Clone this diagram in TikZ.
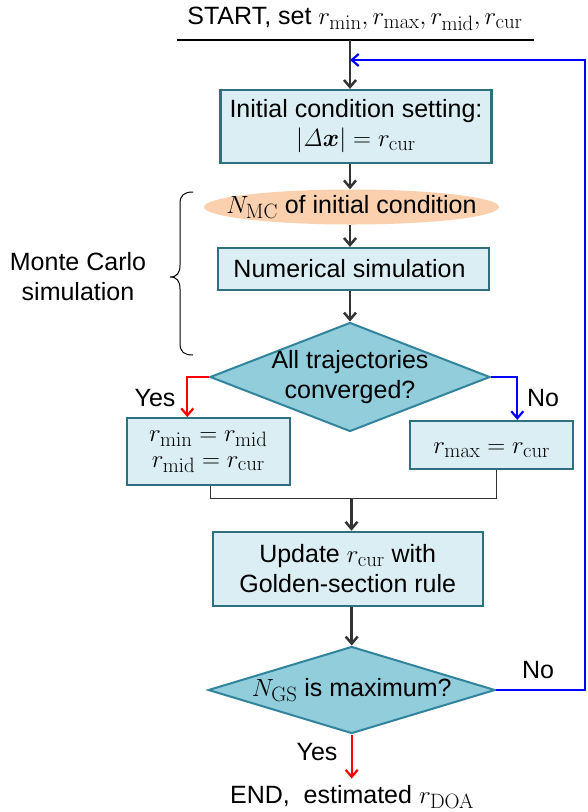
\documentclass[tikz,border=0pt]{standalone}
\usepackage{amsmath,amssymb}
\usepackage[no-math]{fontspec}
\setmainfont{Liberation Sans}
\usetikzlibrary{shapes.geometric,arrows.meta}
\definecolor{boxfill}{HTML}{DBEEF4}
\definecolor{boxline}{HTML}{2E6F80}
\definecolor{diafill}{HTML}{92CDDC}
\definecolor{dialine}{HTML}{31849B}
\definecolor{ellfill}{HTML}{FAD0AE}
\definecolor{arr}{HTML}{333333}
\newcommand{\mymath}[1]{{\fontsize{28.5pt}{30pt}\selectfont$#1$}}
\begin{document}
\begin{tikzpicture}[x=1pt,y=-1pt,
  every node/.style={font=\fontsize{25pt}{30pt}\selectfont},
  box/.style={draw=boxline, fill=boxfill, line width=2.2pt, inner sep=0pt, align=center},
  dia/.style={diamond, draw=dialine, fill=diafill, line width=2pt, inner sep=0pt},
  ell/.style={ellipse, fill=ellfill, inner sep=0pt},
  tip/.style={-{Straight Barb[length=7pt,width=12pt]}},
  flow/.style={draw=arr, line width=2.5pt, tip},
  yesl/.style={draw=red, line width=2.2pt, tip},
  nol/.style={draw=blue, line width=2.2pt, tip},
  joinl/.style={draw=arr, line width=1.4pt},
  txt/.style={align=center, inner sep=0pt}]
\useasboundingbox (0,0) rectangle (588,812);
% start
\node[txt] (start) at (355,19) {START, set \mymath{r_{\mathrm{min}}, r_{\mathrm{max}}, r_{\mathrm{mid}}, r_{\mathrm{cur}}}};
\coordinate (lineL) at (177,40);
\coordinate (lineR) at (534,40);
\coordinate (top) at (350,40);
\coordinate (fb) at (350,60);
\draw[line width=2.4pt] (lineL) -- (lineR);
% boxes
\node[box, minimum width=271pt, minimum height=73pt] (b1) at (356,126.5)
  {Initial condition setting:\\[-1pt] \mymath{|\mathit{\Delta}\boldsymbol{x}| = r_{\mathrm{cur}}}};
\node[ell, minimum width=295pt, minimum height=35pt] (e1) at (351.5,207) {};
\node[txt] (e1t) at (e1.center) {\mymath{N_{\mathrm{MC}}} of initial condition};
\node[box, minimum width=271pt, minimum height=42pt] (b2) at (353.5,269) {};
\node[txt] (b2t) at ([xshift=-4pt]b2.center) {Numerical simulation};
\node[dia, minimum width=280pt, minimum height=109pt] (d1) at (350,377) {};
\node[txt] (d1t) at (d1.center) {All trajectories\\converged?};
\node[box, minimum width=163pt, minimum height=67pt] (b3) at (208.3,451.7)
  {\mymath{r_{\mathrm{min}} = r_{\mathrm{mid}}}\\[-4pt] \mymath{r_{\mathrm{mid}} = r_{\mathrm{cur}}}};
\node[box, minimum width=163pt, minimum height=48pt] (b4) at (491.7,445) {};
\node[txt] (b4t) at ([yshift=-5pt]b4.center) {\mymath{r_{\mathrm{max}} = r_{\mathrm{cur}}}};
\node[box, minimum width=270pt, minimum height=74pt] (b5) at (347.7,568.8)
  {Update \mymath{r_{\mathrm{cur}}} with\\ Golden-section rule};
\node[dia, minimum width=287pt, minimum height=87pt] (d2) at (351.7,690) {};
\node[txt] (d2t) at (d2.center) {\mymath{N_{\mathrm{GS}}} is maximum?};
\node[txt] (endt) at (352,797) {END,\ \ estimated \mymath{r_{\mathrm{DOA}}}};
% labels
\node[txt] (y1) at (155,398) {Yes};
\node[txt] (n1) at (543,398) {No};
\node[txt] (n2) at (538,670) {No};
\node[txt] (y2) at (317,752) {Yes};
\node[txt] (mc) at (78,277) {Monte Carlo\\simulation};
% brace
\draw[line width=1pt] (193,192) .. controls (184,192) and (180,195) .. (180,204) -- (180,265)
  .. controls (180,273) and (177,277) .. (170,277)
  .. controls (177,277) and (180,281) .. (180,289) -- (180,343)
  .. controls (180,352) and (184,355) .. (193,355);
% connectors
\draw[flow] (top) -- (top |- b1.north);
\draw[flow] (b1.south -| top) -- (e1.north -| top);
\draw[flow] (e1.south -| top) -- (b2.north -| top);
\draw[flow] (b2.south -| top) -- (d1.north);
\draw[yesl] (d1.west) -| ([xshift=-21pt]b3.north);
\draw[nol] (d1.east) -| ([xshift=25.6pt]b4.north);
\coordinate (jn) at (351.5,498.3);
\draw[joinl] ([xshift=2.4pt]b3.south) |- (jn) -| ([xshift=5pt]b4.south);
\draw[flow] (jn) -- (b5.north -| jn);
\draw[flow] (b5.south -| d2.north) -- (d2.north);
\draw[nol] (d2.east) -- ++(89,0) |- (fb);
\draw[yesl] (d2.south) -- ++(0,44);
\end{tikzpicture}
\end{document}
